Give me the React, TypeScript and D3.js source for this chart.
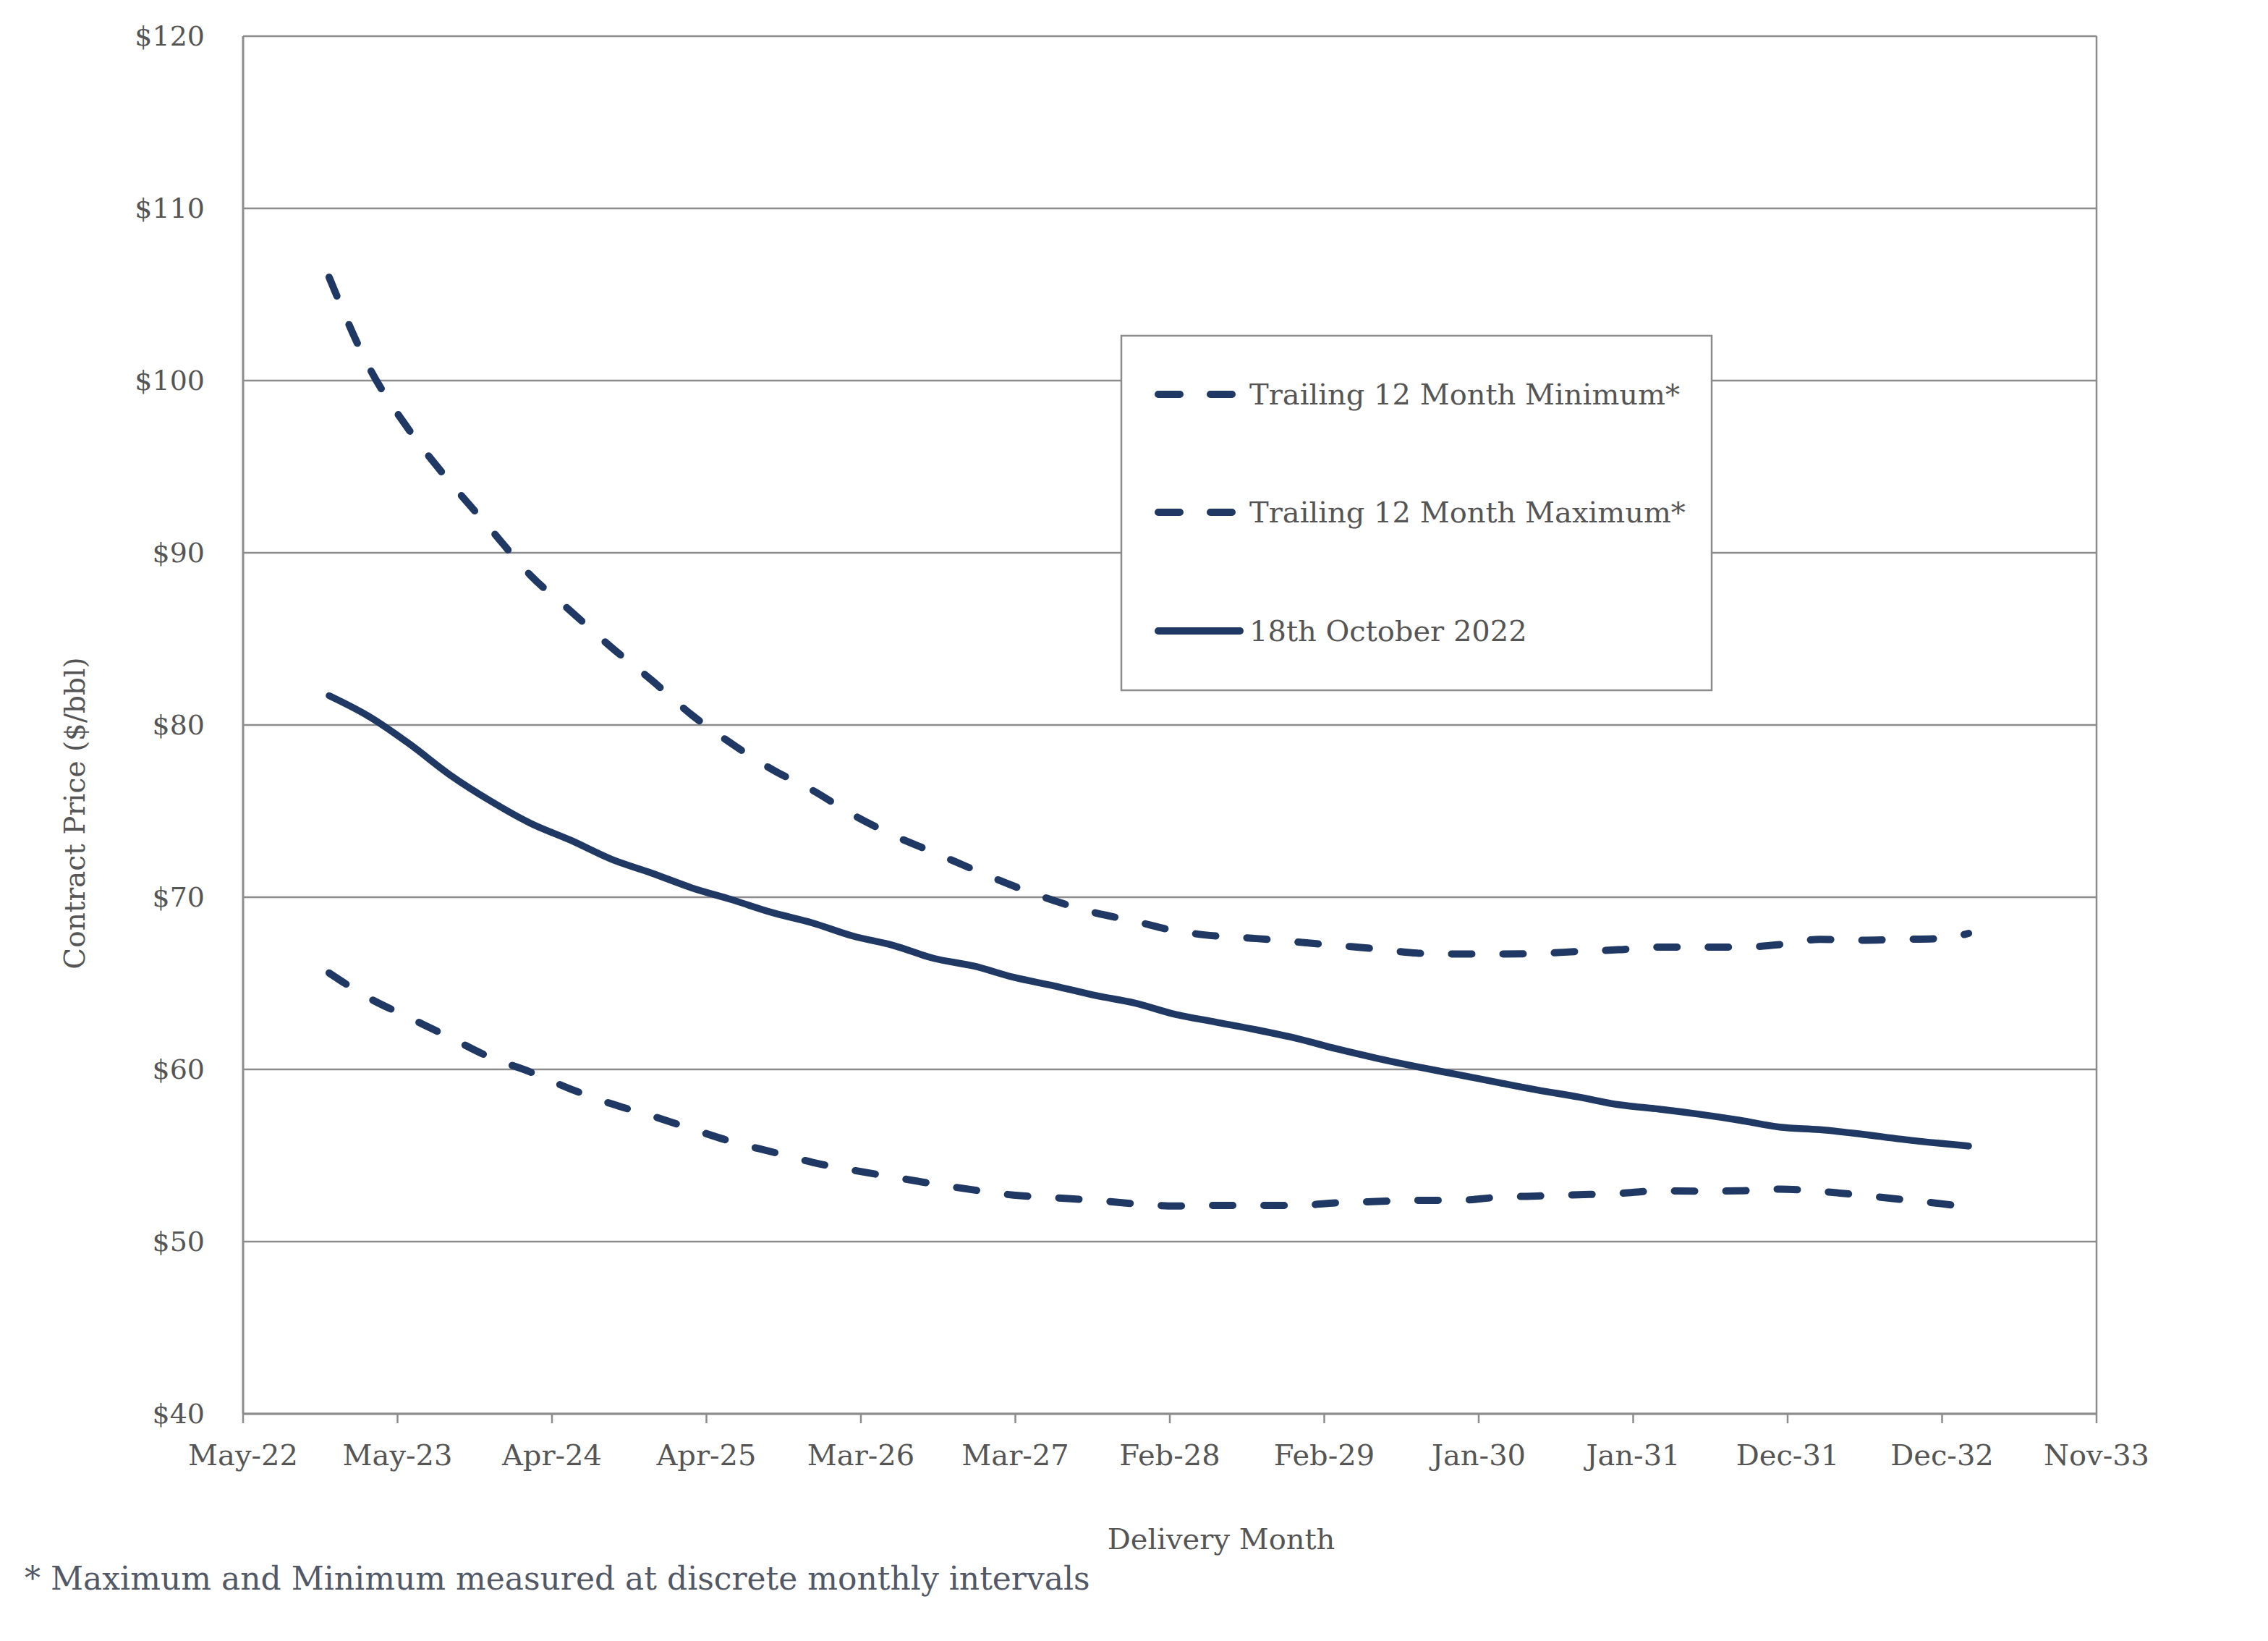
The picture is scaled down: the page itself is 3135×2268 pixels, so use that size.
import React from "react";
import * as d3 from "d3";

// ---- Data ----
const deliveryMonths = [
  "2022-12", "2023-03", "2023-06", "2023-09", "2023-12", "2024-03", "2024-06", "2024-09",
  "2024-12", "2025-03", "2025-06", "2025-09", "2025-12", "2026-03", "2026-06", "2026-09",
  "2026-12", "2027-03", "2027-06", "2027-09", "2027-12", "2028-03", "2028-06", "2028-09",
  "2028-12", "2029-03", "2029-06", "2029-09", "2029-12", "2030-03", "2030-06", "2030-09",
  "2030-12", "2031-03", "2031-06", "2031-09", "2031-12", "2032-03", "2032-06", "2032-09",
  "2032-12", "2033-02",
];

const trailingMax = [
  106.0, 100.8, 97.1, 94.1, 91.4, 88.7, 86.6, 84.5, 82.6, 80.6,
  78.9, 77.4, 76.2, 74.8, 73.6, 72.6, 71.6, 70.65, 69.8, 69.1,
  68.6, 68.05, 67.75, 67.6, 67.4, 67.2, 67.0, 66.75, 66.7, 66.7,
  66.73, 66.85, 66.95, 67.1, 67.1, 67.1, 67.25, 67.55, 67.5, 67.55,
  67.6, 67.9,
];

const trailingMin = [
  65.6, 64.15, 63.0, 61.85, 60.7, 59.85, 58.85, 58.0, 57.3, 56.55,
  55.8, 55.2, 54.6, 54.15, 53.75, 53.35, 53.0, 52.7, 52.55, 52.4,
  52.2, 52.07, 52.1, 52.1, 52.1, 52.25, 52.33, 52.4, 52.4, 52.57,
  52.65, 52.72, 52.8, 52.95, 52.93, 52.95, 53.05, 52.92, 52.7, 52.45,
  52.2, 52.0,
];

const oct18Curve = [
  81.7, 80.5, 78.9, 77.1, 75.6, 74.3, 73.3, 72.2, 71.4, 70.55,
  69.85, 69.1, 68.5, 67.75, 67.2, 66.45, 66.0, 65.35, 64.85, 64.3,
  63.85, 63.2, 62.75, 62.3, 61.8, 61.2, 60.65, 60.15, 59.7, 59.25,
  58.8, 58.4, 57.95, 57.7, 57.4, 57.05, 56.65, 56.5, 56.25, 55.95,
  55.7, 55.55,
];

const xTickLabels = [
  "May-22", "May-23", "Apr-24", "Apr-25", "Mar-26", "Mar-27", "Feb-28",
  "Feb-29", "Jan-30", "Jan-31", "Dec-31", "Dec-32", "Nov-33",
];
const xAxisStart = "2022-05-20";
const xTickStepDays = 350;

const yTicks = [40, 50, 60, 70, 80, 90, 100, 110, 120];

const legendLabels = [
  "Trailing 12 Month Minimum*",
  "Trailing 12 Month Maximum*",
  "18th October 2022",
];

// ---- Layout ----
const W = 3135;
const H = 2268;
const M = { left: 336, right: 2898, top: 50, bottom: 1954 };
const LINE = "#1F3864";
const GRID = "#8c8c8c";
const TEXT = "#555555";
const FONT = "'DejaVu Serif', Georgia, serif";

const parseMonth = d3.timeParse("%Y-%m");
const parseDay = d3.timeParse("%Y-%m-%d");

export default function App() {
  const start = parseDay(xAxisStart) as Date;
  const tickDates = xTickLabels.map((_, k) => d3.timeDay.offset(start, k * xTickStepDays));
  const x = d3
    .scaleTime()
    .domain([tickDates[0], tickDates[tickDates.length - 1]])
    .range([M.left, M.right]);
  const y = d3.scaleLinear().domain([40, 120]).range([M.bottom, M.top]);

  const dates = deliveryMonths.map((m) => parseMonth(m) as Date);
  const mk = (vals: number[]) =>
    d3
      .line<number>()
      .x((_, i) => x(dates[i]))
      .y((v) => y(v))
      .curve(d3.curveMonotoneX)(vals) as string;

  const dash = "28,43";
  const legend = { x0: 1550, y0: 464, x1: 2366, y1: 954 };
  const legendRows = [545, 708, 872];

  return (
    <svg
      width={W}
      height={H}
      viewBox={`0 0 ${W} ${H}`}
      style={{ position: "absolute", left: 0, top: 0, background: "#fff" }}
    >
      <rect x={0} y={0} width={W} height={H} fill="#fff" />
      {/* gridlines */}
      {yTicks.map((t) => (
        <line key={t} x1={M.left} x2={M.right} y1={y(t)} y2={y(t)} stroke={GRID} strokeWidth={2.5} />
      ))}
      {/* plot border */}
      <line x1={M.left} x2={M.left} y1={M.top} y2={M.bottom} stroke={GRID} strokeWidth={3} />
      <line x1={M.right} x2={M.right} y1={M.top} y2={M.bottom} stroke={GRID} strokeWidth={2.5} />
      <line x1={M.left} x2={M.right} y1={M.bottom} y2={M.bottom} stroke={GRID} strokeWidth={3} />
      {/* x ticks */}
      {tickDates.map((d, i) => (
        <g key={i}>
          <line x1={x(d)} x2={x(d)} y1={M.bottom} y2={M.bottom + 13} stroke={GRID} strokeWidth={2.5} />
          <text
            x={x(d)}
            y={2025}
            textAnchor="middle"
            fontFamily={FONT}
            fontSize={40}
            fill={TEXT}
          >
            {xTickLabels[i]}
          </text>
        </g>
      ))}
      {/* y tick labels */}
      {yTicks.map((t) => (
        <text
          key={t}
          x={283}
          y={y(t) + 13}
          textAnchor="end"
          fontFamily={FONT}
          fontSize={38}
          fill={TEXT}
        >
          {`$${t}`}
        </text>
      ))}
      {/* axis titles */}
      <text
        transform={`translate(117,1124) rotate(-90)`}
        textAnchor="middle"
        fontFamily={FONT}
        fontSize={39}
        fill={TEXT}
      >
        Contract Price ($/bbl)
      </text>
      <text x={1688} y={2141} textAnchor="middle" fontFamily={FONT} fontSize={40} fill={TEXT}>
        Delivery Month
      </text>
      <text x={34} y={2197} fontFamily={FONT} fontSize={44} fill="#525866">
        * Maximum and Minimum measured at discrete monthly intervals
      </text>

      {/* series */}
      <path d={mk(trailingMax)} fill="none" stroke={LINE} strokeWidth={10} strokeDasharray={dash} strokeLinecap="round" />
      <path d={mk(trailingMin)} fill="none" stroke={LINE} strokeWidth={10} strokeDasharray={dash} strokeLinecap="round" />
      <path d={mk(oct18Curve)} fill="none" stroke={LINE} strokeWidth={9.5} strokeLinecap="round" strokeLinejoin="round" />

      {/* legend */}
      <rect
        x={legend.x0}
        y={legend.y0}
        width={legend.x1 - legend.x0}
        height={legend.y1 - legend.y0}
        fill="#fff"
        stroke={GRID}
        strokeWidth={2.5}
      />
      {legendLabels.map((lab, i) => (
        <g key={lab}>
          <line
            x1={1601}
            x2={1714}
            y1={legendRows[i]}
            y2={legendRows[i]}
            stroke={LINE}
            strokeWidth={10}
            strokeLinecap="round"
            strokeDasharray={i < 2 ? "30,42" : undefined}
          />
          <text x={1727} y={legendRows[i] + 14} fontFamily={FONT} fontSize={40} fill={TEXT}>
            {lab}
          </text>
        </g>
      ))}
    </svg>
  );
}
